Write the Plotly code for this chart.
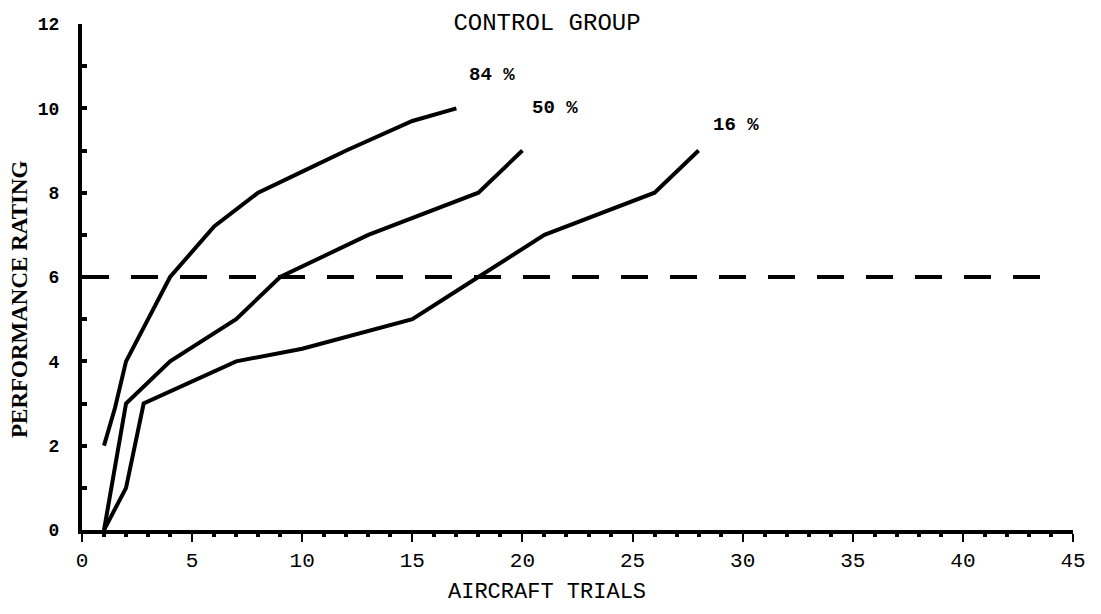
import plotly.graph_objects as go

# Data
x84 = [1, 1.5, 2, 3, 4, 6, 8, 10, 12, 15, 17]
y84 = [2, 2.9, 4, 5, 6, 7.2, 8, 8.5, 9, 9.7, 10]

x50 = [1, 2, 4, 7, 9, 13, 18, 20]
y50 = [0, 3, 4, 5, 6, 7, 8, 9]

x16 = [1, 2, 2.8, 7, 10, 15, 18, 21, 26, 28]
y16 = [0, 1, 3, 4, 4.3, 5, 6, 7, 8, 9]

ref_x = [0, 44.2]
ref_y = [6, 6]

labels = ["84 %", "50 %", "16 %"]
label_x = [18.6, 21.5, 29.7]
label_y = [10.8, 10.0, 9.6]

mono = "Liberation Mono"
OFF = 8  # default page body margin
W, H = 1101 - 2 * OFF, 614 - 2 * OFF
# plot area in screen pixels: x 82..1073, y 24..530
L, T = 82 - OFF, 24 - OFF
R, B = W - (1073 - OFF), H - (530 - OFF)
PW, PH = W - L - R, H - T - B


def px(sx):
    return (sx - OFF - L) / PW


def py(sy):
    return ((H - B) - (sy - OFF)) / PH


fig = go.Figure()
for xs, ys in [(x84, y84), (x50, y50), (x16, y16)]:
    fig.add_trace(go.Scatter(x=xs, y=ys, mode="lines",
                             line=dict(color="black", width=4),
                             showlegend=False, hoverinfo="skip"))
fig.add_trace(go.Scatter(x=ref_x, y=ref_y, mode="lines",
                         line=dict(color="black", width=4, dash="27px,22px"),
                         showlegend=False, hoverinfo="skip"))

for t, lx, ly in zip(labels, label_x, label_y):
    fig.add_annotation(x=lx, y=ly, text=t, showarrow=False,
                       xanchor="center", yanchor="middle",
                       font=dict(family=mono, size=19, color="black", weight="bold"))

fig.add_annotation(xref="paper", yref="paper", x=px(547), y=py(592),
                   xanchor="center", yanchor="middle",
                   text="AIRCRAFT TRIALS", showarrow=False,
                   font=dict(family=mono, size=22, color="black"))
fig.add_annotation(xref="paper", yref="paper", x=px(19), y=py(299),
                   xanchor="center", yanchor="middle",
                   text="PERFORMANCE RATING", showarrow=False, textangle=-90,
                   font=dict(family="Liberation Serif", size=23, color="black", weight="bold"))

fig.update_layout(
    width=W, height=H,
    margin=dict(l=L, r=R, t=T, b=B, autoexpand=False),
    plot_bgcolor="white", paper_bgcolor="white",
    title=dict(text="CONTROL GROUP", xref="container", yref="container",
               x=(547 - OFF) / W, xanchor="center", y=1 - (22 - OFF) / H, yanchor="middle",
               font=dict(family=mono, size=24, color="black")),
    xaxis=dict(range=[0, 45], tick0=0, dtick=5, showgrid=False, zeroline=False,
               showline=True, linecolor="black", linewidth=4, automargin=False,
               ticks="outside", ticklen=8, tickwidth=2, tickcolor="black",
               minor=dict(dtick=1, ticks="outside", ticklen=3, tickwidth=4, tickcolor="black"),
               tickfont=dict(family=mono, size=21, color="black"),
               ticklabelstandoff=0),
    yaxis=dict(range=[0, 12], tick0=0, dtick=2, showgrid=False, zeroline=False,
               showline=True, linecolor="black", linewidth=4, automargin=False,
               ticks="inside", ticklen=5, tickwidth=4, tickcolor="black",
               minor=dict(dtick=1, ticks="inside", ticklen=5, tickwidth=4, tickcolor="black"),
               tickfont=dict(family=mono, size=18, color="black", weight="bold"),
               ticklabelstandoff=15),
)

fig.write_html("out.html")
